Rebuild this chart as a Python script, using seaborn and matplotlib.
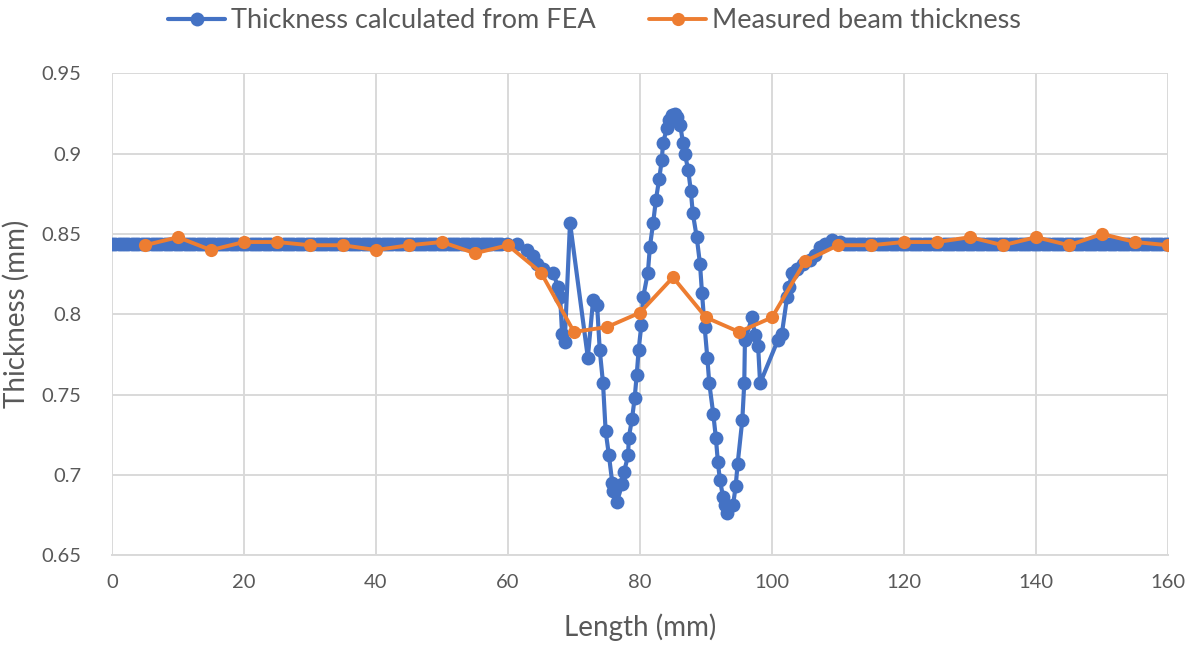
import numpy as np
import pandas as pd
import matplotlib
matplotlib.use("Agg")
import matplotlib.pyplot as plt
import seaborn as sns

# Thickness along the beam from the FEA model (mm); flat ends sampled every 0.5 mm
fea_flat_level = 0.844
fea_left_x = [i / 2 for i in range(0, 119)]
fea_mid_x = [59.8, 61.4, 62.9, 63.8, 64.4, 65.3, 66.8, 67.6, 67.9, 68.2, 68.6,
             69.4, 72.1, 72.9, 73.5, 73.9, 74.4, 74.8, 75.3, 75.8, 75.9, 76.5,
             77.3, 77.6, 78.2, 78.3, 78.8, 79.2, 79.5, 79.8, 80.2, 80.5, 81.2,
             81.5, 82.0, 82.4, 82.9, 83.3, 83.5, 84.1, 84.4, 84.8, 85.3, 85.6,
             86.1, 86.5, 86.8, 87.3, 87.7, 88.0, 88.6, 89.1, 89.4, 89.8, 90.2,
             90.5, 91.1, 91.5, 91.8, 92.1, 92.6, 92.9, 93.2, 94.1, 94.5, 94.8,
             95.5, 95.8, 95.9, 97.0, 97.4, 97.9, 98.2, 100.9, 101.5, 102.3,
             102.6, 103.0, 103.8, 104.7, 105.8, 106.5, 107.3, 108.0, 109.1,
             110.3]
fea_mid_y = [0.844, 0.844, 0.840, 0.836, 0.831, 0.828, 0.826, 0.817, 0.811,
             0.788, 0.783, 0.857, 0.773, 0.809, 0.806, 0.778, 0.757, 0.727,
             0.712, 0.695, 0.690, 0.683, 0.694, 0.702, 0.712, 0.723, 0.735,
             0.748, 0.762, 0.778, 0.793, 0.811, 0.826, 0.842, 0.857, 0.871,
             0.884, 0.896, 0.907, 0.916, 0.921, 0.924, 0.925, 0.923, 0.918,
             0.907, 0.900, 0.890, 0.877, 0.863, 0.848, 0.831, 0.813, 0.792,
             0.773, 0.757, 0.738, 0.723, 0.708, 0.697, 0.686, 0.681, 0.676,
             0.681, 0.693, 0.707, 0.734, 0.757, 0.784, 0.798, 0.787, 0.780,
             0.757, 0.784, 0.788, 0.811, 0.817, 0.826, 0.828, 0.831, 0.834,
             0.837, 0.842, 0.844, 0.846, 0.845]
fea_right_x = [i / 2 for i in range(222, 321)]

fea_x = fea_left_x + fea_mid_x + fea_right_x
fea_y = ([fea_flat_level] * len(fea_left_x) + fea_mid_y
         + [fea_flat_level] * len(fea_right_x))

# Measured beam thickness every 5 mm (mm)
meas_x = [5, 10, 15, 20, 25, 30, 35, 40, 45, 50, 55, 60, 65, 70, 75, 80,
          85, 90, 95, 100, 105, 110, 115, 120, 125, 130, 135, 140, 145, 150,
          155, 160]
meas_y = [0.843, 0.848, 0.840, 0.845, 0.845, 0.843, 0.843, 0.840, 0.843,
          0.845, 0.838, 0.843, 0.826, 0.789, 0.792, 0.801, 0.823, 0.798,
          0.789, 0.798, 0.833, 0.843, 0.843, 0.845, 0.845, 0.848, 0.843,
          0.848, 0.843, 0.850, 0.845, 0.843]

x_ticks = [0, 20, 40, 60, 80, 100, 120, 140, 160]
y_ticks = [0.65, 0.7, 0.75, 0.8, 0.85, 0.9, 0.95]
y_tick_labels = ["0.65", "0.7", "0.75", "0.8", "0.85", "0.9", "0.95"]

BLUE = "#4472C4"
ORANGE = "#ED7D31"
GRID = "#D9D9D9"
TEXT = "#595959"

sns.set_theme(style="white")
plt.rcParams["font.family"] = ["Lato", "DejaVu Sans"]

fea_df = pd.DataFrame({"length": fea_x, "thickness": fea_y})
meas_df = pd.DataFrame({"length": meas_x, "thickness": meas_y})

fig = plt.figure(figsize=(11.96, 6.48), dpi=100)
ax = fig.add_axes([0.0936, 0.1435, 0.8830, 0.7431])

sns.lineplot(data=fea_df, x="length", y="thickness", sort=False, ax=ax,
             color=BLUE, linewidth=3.0, marker="o", markersize=10,
             markeredgewidth=0, label="Thickness calculated from FEA",
             zorder=3)
sns.lineplot(data=meas_df, x="length", y="thickness", sort=False, ax=ax,
             color=ORANGE, linewidth=2.8, marker="o", markersize=9.5,
             markeredgewidth=0, label="Measured beam thickness", zorder=4)

ax.set_xlim(0, 160)
ax.set_ylim(0.65, 0.95)
ax.set_xticks(x_ticks)
ax.set_yticks(y_ticks)
ax.set_yticklabels(y_tick_labels)
ax.grid(True, color=GRID, linewidth=1.4)
ax.set_axisbelow(True)
for side in ["top", "right", "left"]:
    ax.spines[side].set_visible(False)
ax.spines["bottom"].set_color(GRID)
ax.spines["bottom"].set_linewidth(1.4)
ax.tick_params(axis="y", length=0, labelsize=14.5, colors=TEXT, pad=22)
ax.tick_params(axis="x", length=0, labelsize=14.5, colors=TEXT, pad=14)

ax.set_xlabel("Length (mm)", fontsize=20, color=TEXT, labelpad=16)
ax.set_ylabel("Thickness (mm)", fontsize=20, color=TEXT)
ax.yaxis.set_label_coords(-0.078, 0.5)

ax.get_legend().remove()
handles, labels = ax.get_legend_handles_labels()
fig.legend(handles, labels, loc="upper center", bbox_to_anchor=(0.497, 1.025),
           ncol=2, frameon=False, fontsize=19.5, labelcolor=TEXT,
           handlelength=2.1, columnspacing=2.0, handletextpad=0.2)

fig.savefig("out.png", dpi=100)
